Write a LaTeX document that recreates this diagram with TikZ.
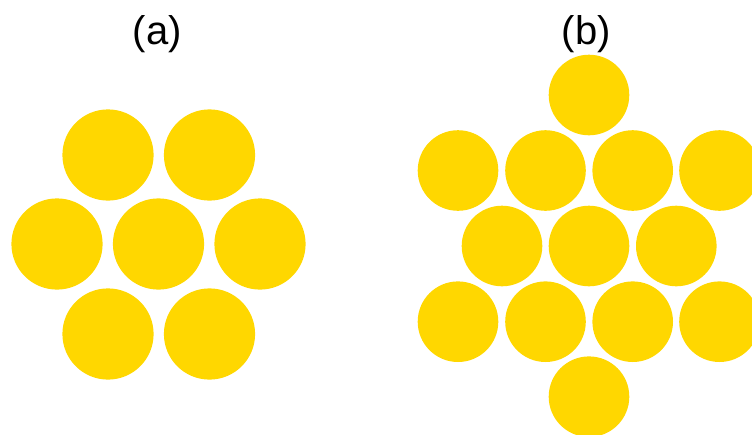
\documentclass[tikz,border=0pt]{standalone}
\usepackage{fontspec}
\setmainfont{Liberation Sans}
\definecolor{gold}{RGB}{255,215,0}
\begin{document}
\begin{tikzpicture}[x=1pt,y=-1pt,
  ballA/.style={fill=gold},
  lbl/.style={font=\fontsize{40}{48}\selectfont, inner sep=0pt, anchor=center}]
\useasboundingbox (0,0) rectangle (752,434);
\begin{scope}
\clip (0,0) rectangle (752,434);
% (a)
\foreach \x/\y in {108/155, 209.5/155, 57/244, 158.5/244, 260/244, 108/334, 209.5/334}
  \fill[ballA] (\x,\y) circle (45.6);
% (b)
\foreach \x/\y in {589/95,
  458/170.5, 545.5/170.5, 632.7/170.5, 719.5/170.5,
  502/246, 589/246, 676.3/246,
  458/321.7, 545.5/321.7, 632.7/321.7, 719.5/321.7,
  589/396.7}
  \fill[ballA] (\x,\y) circle (40.3);
\end{scope}
\node[lbl] (la) at (157.2,33.7) {(a)};
\node[lbl] (lb) at (586.4,33.7) {(b)};
\end{tikzpicture}
\end{document}
